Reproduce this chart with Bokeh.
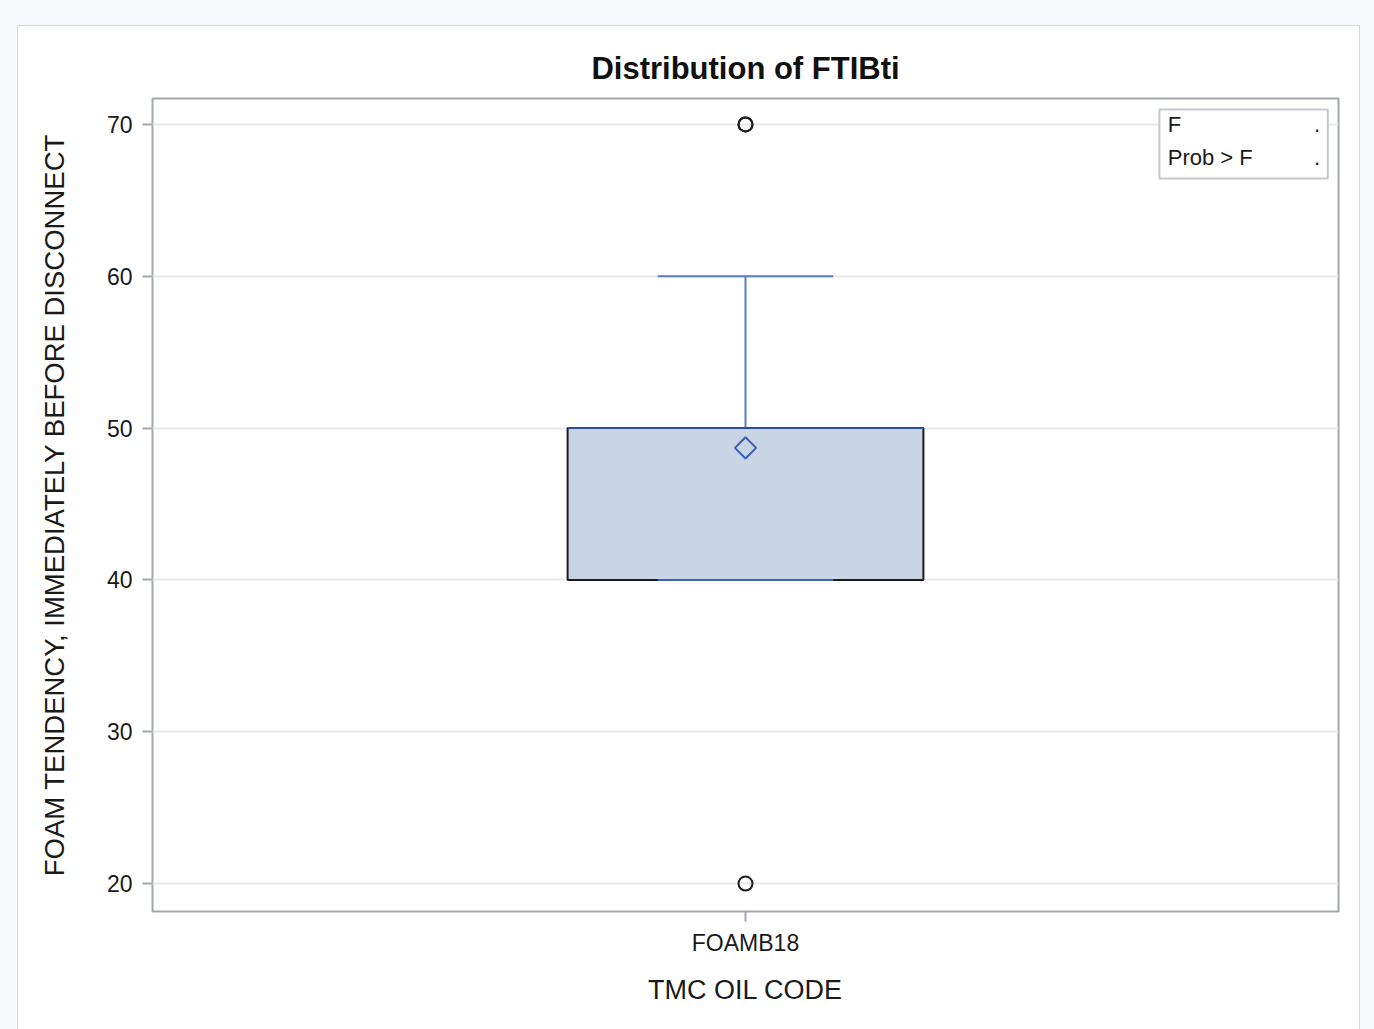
from bokeh.plotting import figure
from bokeh.models import FactorRange, Range1d, BoxAnnotation, FixedTicker, ColumnDataSource
from bokeh.transform import dodge
from bokeh.embed import file_html
from bokeh.resources import INLINE
from bokeh.core.properties import value

# ---- data ----
categories = ["FOAMB18"]
q1 = [40]
median = [50]
q3 = [50]
lower_whisker = [40]
upper_whisker = [60]
mean = [48.7]
outlier_values = [70, 70, 20]
outlier_cats = ["FOAMB18", "FOAMB18", "FOAMB18"]
y_ticks = [20, 30, 40, 50, 60, 70]
stat_names = ["F", "Prob > F"]
stat_values = [".", "."]

FONT = "Liberation Sans"
Y0, Y1 = 18.16, 71.71

p = figure(x_range=FactorRange(factors=categories, range_padding=0),
           y_range=Range1d(Y0, Y1),
           width=1343, height=1012, output_backend="svg", toolbar_location=None,
           title="Distribution of FTIBti",
           min_border_left=134, min_border_right=23, min_border_top=72, min_border_bottom=127)
p.margin = (25, 0, 0, 17)
p.styles = {"border": "1px solid #d3d7dc"}
p.background_fill_color = "white"
p.border_fill_color = "white"

p.title.align = "center"
p.title.text_font = FONT
p.title.text_font_size = "31px"
p.title.text_font_style = "bold"
p.title.text_color = "#111111"
p.title.standoff = 25

p.outline_line_color = "#a2a7ac"
p.outline_line_width = 2

p.xgrid.grid_line_color = None
p.ygrid.grid_line_color = "#e9e9e9"
p.ygrid.grid_line_width = 2
p.yaxis.ticker = FixedTicker(ticks=y_ticks)
p.yaxis.minor_tick_line_color = None

for ax in (p.xaxis[0], p.yaxis[0]):
    ax.axis_line_color = None
    ax.major_tick_line_color = "#a2a7ac"
    ax.major_tick_line_width = 2
    ax.major_tick_out = 10
    ax.major_tick_in = 0
    ax.major_label_text_font = FONT
    ax.major_label_text_font_size = "23px"
    ax.major_label_text_color = "#1a1a1a"
    ax.axis_label_text_font = FONT
    ax.axis_label_text_font_style = "normal"
    ax.axis_label_text_color = "#1a1a1a"

p.yaxis.axis_label = "FOAM TENDENCY, IMMEDIATELY BEFORE DISCONNECT"
p.yaxis.axis_label_text_font_size = "27.5px"
p.yaxis.major_label_standoff = 10
p.yaxis.axis_label_standoff = 34
p.xaxis.axis_label = "TMC OIL CODE"
p.xaxis.axis_label_text_font_size = "27px"
p.xaxis.major_label_standoff = 8
p.xaxis.axis_label_standoff = 16

src = ColumnDataSource(dict(cat=categories, q1=q1, med=median, q3=q3,
                            lo=lower_whisker, hi=upper_whisker, mean=mean))

BOX_W = 0.3
CAP_W = 0.148

# box
p.vbar(x="cat", width=BOX_W, bottom="q1", top="q3", source=src,
       fill_color="#c9d4e4", line_color="#1c1c1c", line_width=2)
# whiskers
p.segment(x0="cat", x1="cat", y0="q3", y1="hi", source=src,
          line_color="#5b7dc8", line_width=2)
p.segment(x0="cat", x1="cat", y0="lo", y1="q1", source=src,
          line_color="#5b7dc8", line_width=2)
p.segment(x0=dodge("cat", -CAP_W / 2, range=p.x_range), x1=dodge("cat", CAP_W / 2, range=p.x_range),
          y0="hi", y1="hi", source=src, line_color="#5b7dc8", line_width=2)
p.segment(x0=dodge("cat", -CAP_W / 2, range=p.x_range), x1=dodge("cat", CAP_W / 2, range=p.x_range),
          y0="lo", y1="lo", source=src, line_color="#3d62b8", line_width=2)
# median
p.segment(x0=dodge("cat", -BOX_W / 2, range=p.x_range), x1=dodge("cat", BOX_W / 2, range=p.x_range),
          y0="med", y1="med", source=src, line_color="#2a4ea6", line_width=2)
# mean
p.scatter(x="cat", y="mean", source=src, marker="square", angle=0.785398, size=15,
          fill_color=None, line_color="#3a5fb6", line_width=2)
# outliers
p.scatter(x=outlier_cats, y=outlier_values, marker="circle", size=14,
          fill_color=None, line_color="#1c1c1c", line_width=2)

# statistics inset (positioned as fractions of the plot frame)
def fx(f):
    return f  # synthetic x range is 0..1

def fy(f):
    return Y0 + (Y1 - Y0) * f

p.add_layout(BoxAnnotation(left=fx(0.849), right=fx(0.991), bottom=fy(0.9016), top=fy(0.9865),
                           fill_color="white", fill_alpha=1.0, level="underlay",
                           line_color="#c4c8cd", line_width=2, line_alpha=1.0))
row_y = [fy(0.9683), fy(0.9275)]
p.text(x=[fx(0.856)] * 2, y=row_y, text=stat_names, text_font=value(FONT),
       text_font_size="22px", text_color="#1a1a1a", text_baseline="middle", text_align="left")
p.text(x=[fx(0.9845)] * 2, y=row_y, text=stat_values, text_font=value(FONT),
       text_font_size="22px", text_color="#1a1a1a", text_baseline="middle", text_align="right")

html = file_html(p, INLINE)
html = html.replace("<body>", '<body style="background-color:#f8f9fd; overflow:hidden;">')
open("out.html", "w").write(html)
